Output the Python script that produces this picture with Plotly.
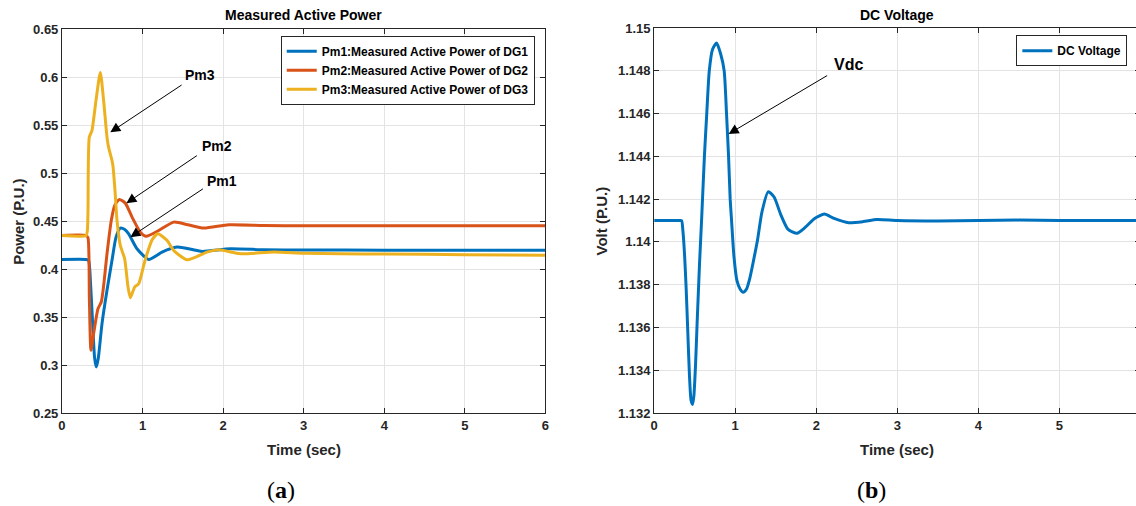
import plotly.graph_objects as go

# ---------------- data ----------------
pm1_t = [0, 0.30, 0.33, 0.355, 0.38, 0.405, 0.426, 0.45, 0.497, 0.559, 0.621, 0.671, 0.724,
         0.78, 0.828, 0.931, 1.076, 1.242, 1.428, 1.60, 1.739, 2.09, 2.5, 3.0, 4.0, 5.0, 6.0]
pm1_v = [0.4104, 0.4104, 0.4095, 0.385, 0.345, 0.308, 0.2985, 0.307, 0.3436, 0.3782, 0.4094,
         0.4336, 0.443, 0.4415, 0.437, 0.4215, 0.4104, 0.418, 0.4232, 0.421, 0.4187, 0.4215,
         0.4205, 0.4202, 0.42, 0.42, 0.42]

pm2_t = [0, 0.30, 0.323, 0.34, 0.36, 0.393, 0.447, 0.488, 0.52, 0.559, 0.612, 0.654, 0.712,
         0.786, 0.87, 0.973, 1.045, 1.2, 1.387, 1.56, 1.76, 2.07, 2.5, 3.0, 4.0, 5.0, 6.0]
pm2_v = [0.4353, 0.4353, 0.433, 0.37, 0.3158, 0.3332, 0.359, 0.366, 0.385, 0.4163, 0.451,
         0.4665, 0.4728, 0.469, 0.4544, 0.4388, 0.4345, 0.4405, 0.4492, 0.4465, 0.443, 0.4465,
         0.4457, 0.4455, 0.4455, 0.4455, 0.4455]

pm3_t = [0, 0.30, 0.315, 0.323, 0.339, 0.372, 0.422, 0.476, 0.517, 0.559, 0.579, 0.629, 0.66,
         0.683, 0.724, 0.778, 0.82, 0.849, 0.902, 0.952, 1.014, 1.056, 1.12, 1.19, 1.304, 1.387,
         1.553, 1.8, 1.946, 2.215, 2.63, 3.0, 3.457, 4.0, 5.0, 6.0]
pm3_v = [0.4353, 0.4353, 0.44, 0.46, 0.5375, 0.5445, 0.5757, 0.605, 0.5757, 0.5375, 0.527,
         0.51, 0.48, 0.451, 0.425, 0.4111, 0.3816, 0.3706, 0.3816, 0.385, 0.4042, 0.4163, 0.431,
         0.437, 0.4302, 0.4197, 0.410, 0.418, 0.4205, 0.4163, 0.418, 0.4167, 0.4163, 0.416,
         0.4153, 0.4146]

vdc_t = [0, 0.30, 0.338, 0.355, 0.375, 0.395, 0.415, 0.435, 0.455, 0.474, 0.49, 0.51, 0.53,
         0.56, 0.585, 0.62, 0.649, 0.68, 0.72, 0.77, 0.82, 0.864, 0.893, 0.918, 0.938, 0.955,
         0.985, 1.021, 1.06, 1.099, 1.14, 1.18, 1.23, 1.276, 1.33, 1.408, 1.48, 1.56, 1.65,
         1.762, 1.87, 1.98, 2.1, 2.22, 2.4, 2.58, 2.75, 3.0, 3.5, 4.0, 4.5, 5.0, 6.0]
vdc_v = [1.141, 1.141, 1.141, 1.1405, 1.1394, 1.1378, 1.1358, 1.1338, 1.1326, 1.1324, 1.1328,
         1.1342, 1.1362, 1.1390, 1.1410, 1.144, 1.146, 1.148, 1.1490, 1.1493, 1.1488, 1.148,
         1.146, 1.144, 1.142, 1.141, 1.1393, 1.1382, 1.1378, 1.13765, 1.1378, 1.1383, 1.1392,
         1.1401, 1.1414, 1.14235, 1.1421, 1.1413, 1.1406, 1.1404, 1.1407, 1.1411, 1.1413,
         1.1411, 1.1409, 1.14095, 1.14105, 1.1410, 1.14098, 1.141, 1.14102, 1.141, 1.141]

series_names = ["Pm1:Measured Active Power of DG1",
                "Pm2:Measured Active Power of DG2",
                "Pm3:Measured Active Power of DG3"]
vdc_name = "DC Voltage"

x_ticks = [0, 1, 2, 3, 4, 5, 6]
y1_ticks = [0.25, 0.30, 0.35, 0.40, 0.45, 0.50, 0.55, 0.60, 0.65]
y1_labels = ["0.25", "0.3", "0.35", "0.4", "0.45", "0.5", "0.55", "0.6", "0.65"]
y2_ticks = [1.132, 1.134, 1.136, 1.138, 1.140, 1.142, 1.144, 1.146, 1.148, 1.150]
y2_labels = ["1.132", "1.134", "1.136", "1.138", "1.14", "1.142", "1.144", "1.146", "1.148", "1.15"]

# ---------------- styling ----------------
W, H = 1146, 521
# observed mapping from figure pixels to the photographed image (x' = SX*x + BX, y' = SY*y + BY)
SX, BX = 0.992, 3.8
SY, BY = 0.972, 6.2
FONT = "Liberation Sans"
AX = "#262626"
GRID = "#e3e3e3"
COLORS = ["#0072BD", "#D95319", "#EDB120"]

def px_x(p):
    return ((p - BX) / SX) / W

def px_y(p):
    return 1 - ((p - BY) / SY) / H

fig = go.Figure()
for t, v, name, c in zip([pm1_t, pm2_t, pm3_t], [pm1_v, pm2_v, pm3_v], series_names, COLORS):
    fig.add_trace(go.Scatter(x=t, y=v, name=name, mode="lines",
                             line=dict(color=c, width=3, shape="spline", smoothing=0.6),
                             xaxis="x", yaxis="y", legend="legend"))
fig.add_trace(go.Scatter(x=vdc_t, y=vdc_v, name=vdc_name, mode="lines",
                         line=dict(color=COLORS[0], width=3, shape="spline", smoothing=0.6),
                         xaxis="x2", yaxis="y2", legend="legend2"))

tickfont = dict(family=FONT, size=13, color=AX, weight="bold")
common_x = dict(showline=True, linecolor=AX, linewidth=1, ticks="inside", ticklen=5,
                tickcolor=AX, showgrid=True, gridcolor=GRID, gridwidth=1, zeroline=False,
                tickvals=x_ticks, tickfont=tickfont, fixedrange=True)
common_y = dict(showline=True, linecolor=AX, linewidth=1, ticks="inside", ticklen=5,
                tickcolor=AX, showgrid=True, gridcolor=GRID, gridwidth=1, zeroline=False,
                tickfont=tickfont, fixedrange=True)

fig.update_layout(
    width=W, height=H, margin=dict(l=0, r=0, t=0, b=0),
    paper_bgcolor="white", plot_bgcolor="white",
    xaxis=dict(domain=[px_x(61.7), px_x(544.7)], range=[0, 6], mirror="ticks", anchor="y",
               **common_x),
    yaxis=dict(domain=[px_y(413), px_y(28.5)], range=[0.25, 0.65], mirror="ticks", anchor="x",
               tickvals=y1_ticks, ticktext=y1_labels, **common_y),
    xaxis2=dict(domain=[px_x(653.3), min(1.0, px_x(1139))], range=[0, 6], mirror="ticks",
                anchor="y2", **common_x),
    yaxis2=dict(domain=[px_y(412.5), px_y(27.3)], range=[1.132, 1.150], mirror="ticks",
                anchor="x2", tickvals=y2_ticks, ticktext=y2_labels, **common_y),
    legend=dict(x=px_x(534), xanchor="right", y=px_y(35), yanchor="top",
                bgcolor="white", bordercolor=AX, borderwidth=1, tracegroupgap=0,
                font=dict(family=FONT, size=12, color="black", weight="bold")),
    legend2=dict(x=px_x(1126), xanchor="right", y=px_y(34.5), yanchor="top",
                 bgcolor="white", bordercolor=AX, borderwidth=1,
                 font=dict(family=FONT, size=12, color="black", weight="bold")),
    showlegend=True,
)

def txt(text, xc, yc, size, color="black", angle=0, family=FONT, bold=True):
    f = dict(family=family, size=size, color=color)
    if bold:
        f["weight"] = "bold"
    return dict(text=text, x=px_x(xc), y=px_y(yc), xref="paper", yref="paper",
                xanchor="center", yanchor="middle", textangle=angle, showarrow=False, font=f)

ann = []
ann.append(txt("Measured Active Power", 303, 14, 14))
ann.append(txt("DC Voltage", 896, 14, 14))
ann.append(txt("Time (sec)", 303, 449, 15, AX))
ann.append(txt("Time (sec)", 896, 449, 15, AX))
ann.append(txt("Power (P.U.)", 18, 221, 15, AX, angle=-90))
ann.append(txt("Volt (P.U.)", 601, 220, 15, AX, angle=-90))
ann.append(txt("(<b>a</b>)", 281, 490, 24, family="Liberation Serif", bold=False))
ann.append(txt("(<b>b</b>)", 870, 490, 24, family="Liberation Serif", bold=False))

# arrows + labels (head, tail, label position in data coords)
arrows = [
    ("x", "y", "Pm3", (0.600, 0.5427), (1.503, 0.5930), (1.718, 0.6027), 14),
    ("x", "y", "Pm2", (0.799, 0.4689), (1.693, 0.5195), (1.929, 0.5282), 14),
    ("x", "y", "Pm1", (0.848, 0.4336), (1.768, 0.4849), (1.991, 0.4925), 14),
    ("x2", "y2", "Vdc", (0.919, 1.14505), (2.153, 1.14782), (2.395, 1.14828), 16),
]
for xr, yr, label, head, tail, pos, fs in arrows:
    ann.append(dict(text="", x=head[0], y=head[1], ax=tail[0], ay=tail[1], xref=xr, yref=yr,
                    axref=xr, ayref=yr, showarrow=True, arrowhead=2, arrowsize=2,
                    arrowwidth=1, arrowcolor="black"))
    ann.append(dict(text=label, x=pos[0], y=pos[1], xref=xr, yref=yr, showarrow=False,
                    xanchor="center", yanchor="middle",
                    font=dict(family=FONT, size=fs, color="black", weight="bold")))

fig.update_layout(annotations=ann)
fig.write_html("out.html")
